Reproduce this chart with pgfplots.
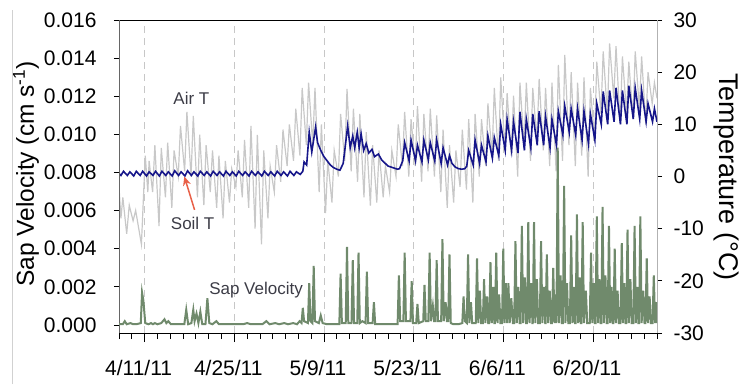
\documentclass[border=0pt]{standalone}
\usepackage{pgfplots}
\pgfplotsset{compat=1.18}
\usepackage{fontspec}
\setmainfont{Liberation Sans}
\usetikzlibrary{arrows.meta}
\definecolor{airT}{RGB}{200,200,200}
\definecolor{soilT}{RGB}{22,22,138}
\definecolor{sapV}{RGB}{112,138,108}
\definecolor{arrowred}{RGB}{232,96,72}
\definecolor{annot}{RGB}{60,60,70}
\begin{document}
\begin{tikzpicture}[x=1pt,y=1pt]
\useasboundingbox (0,0) rectangle (745,384);
\draw[black!18, line width=0.8pt] (12,0) -- (12,374);
\node[rotate=90, font=\fontsize{24.5}{28}\selectfont] at (26,210) {Sap Velocity (cm s\textsuperscript{-1})};
\node[rotate=-90, font=\fontsize{27}{30}\selectfont] at (726,207) {Temperature (°C)};
% ---------- temperature axis (right) ----------
\begin{axis}[
  at={(119pt,51pt)}, anchor=south west, scale only axis,
  width=538pt, height=313pt,
  xmin=-4, xmax=80, ymin=-30, ymax=30,
  separate axis lines,
  x axis line style={black, line width=1pt},
  y axis line style={black!30, line width=0.8pt},
  xtick={0,14,28,42,56,70}, xticklabels={}, major x tick style={draw=none},
  xmajorgrids, major x grid style={dash pattern=on 7pt off 5pt, black!22, line width=0.8pt},
  ytick={-30,-20,-10,0,10,20,30},
  ytick pos=right, yticklabel pos=right,
  tick align=outside, major tick length=5pt,
  ytick style={black, line width=0.8pt},
  yticklabel style={anchor=west, xshift=8pt, font=\fontsize{21}{25}\selectfont},
  /pgf/number format/assume math mode=true,
]
\addplot[airT, line width=1.2pt] coordinates {
(-4.0,-2) (-3.7,-8) (-3.4,-4) (-2.8,-11) (-2.4,-5.5) (-1.8,-8.5) (-1.4,-6.5) (-0.5,-13) (0.1,4) (0.5,-3) (0.7,3) (1.25,-3) (1.6,6) (2.25,-9.5) (2.6,5.5) (3.25,-4) (3.6,6.5) (4.25,-6) (4.6,5) (5.25,0) (5.6,9.7) (6.25,1) (6.6,12.4) (7.25,0) (7.6,11.6) (8.25,-4) (8.6,8) (9.25,-5.5) (9.6,6) (10.25,-3) (10.6,5) (11.25,-6) (11.6,4) (12.25,-8) (12.6,3) (13.25,-5) (13.6,1.5) (14.25,-2) (14.6,5) (15.25,-4) (15.6,7) (16.25,-6) (16.6,9.7) (17.25,-10) (17.6,8) (18.25,-13) (18.6,5) (19.25,-8) (19.6,2) (20.25,-3) (20.6,6) (21.25,-1) (21.6,9) (22.25,2) (22.6,10) (23.25,3) (23.6,13) (24.25,4) (24.6,17) (25.25,6) (25.6,18) (26.25,6) (26.6,17) (27.25,-3) (27.6,10) (28.25,-7) (28.6,3) (29.25,-5) (29.6,5) (30.25,0) (30.6,12) (31.25,3) (31.6,16.8) (32.25,1) (32.6,13) (33.25,-1) (33.6,12) (34.25,-4) (34.6,8.5) (35.25,-5.6) (35.6,6) (36.25,-5) (36.6,5) (37.25,-4) (37.6,2) (38.25,-3) (38.6,5) (39.25,0) (39.6,10) (40.25,2) (40.6,12.4) (41.25,0) (41.6,11) (42.25,2) (42.6,13.5) (43.25,-1) (43.6,12) (44.25,1) (44.6,13) (45.25,0) (45.6,11.7) (46.25,-3) (46.6,9) (47.25,-6) (47.6,6) (48.25,-5) (48.6,5) (49.25,-2) (49.6,9) (50.25,-2.5) (50.6,11) (51.25,-5) (51.6,12) (52.25,0) (52.6,11) (53.25,2) (53.6,14) (54.25,4) (54.6,17) (55.25,3) (55.6,19) (56.25,5) (56.6,16) (57.25,4) (57.6,15.5) (58.25,0) (58.6,18) (59.25,6) (59.6,18) (60.25,3) (60.6,17) (61.25,7) (61.6,18.7) (62.25,5) (62.6,17) (63.25,2) (63.6,18) (64.25,1) (64.6,21.4) (65.25,3) (65.6,23.3) (66.25,6) (66.6,20) (67.25,2) (67.6,18) (68.25,4) (68.6,19) (69.25,0) (69.6,17) (70.25,7) (70.6,22) (71.25,12) (71.6,24) (72.25,12) (72.6,25.5) (73.25,15) (73.6,25) (74.25,10) (74.6,23) (75.25,12) (75.6,22) (76.25,11) (76.6,24) (77.25,13) (77.6,23) (78.25,10) (78.6,20) (79.25,14) (79.6,18) (80,15)
};
\addplot[soilT, line width=1.6pt] coordinates {
(-4,0.6) (-3.7,0.2) (-3.3,1.0) (-2.7,0.2) (-2.3,0.9) (-1.7,0.1) (-1.3,1.0) (-0.7,0.2) (-0.3,1.0) (0.3,0.1) (0.7,0.9) (1.3,0.2) (1.7,1.0) (2.3,0.1) (2.7,1.0) (3.3,0.2) (3.7,0.9) (4.3,0.1) (4.7,1.1) (5.3,0.2) (5.7,0.9) (6.3,0.1) (6.7,1.1) (7.3,0.2) (7.7,0.9) (8.3,0.1) (8.7,1.0) (9.3,0.2) (9.7,0.9) (10.3,0.1) (10.7,1.0) (11.3,0.2) (11.7,0.9) (12.3,0.1) (12.7,1.0) (13.3,0.2) (13.7,0.9) (14.3,0.1) (14.7,1.0) (15.3,0.2) (15.7,0.9) (16.3,0.1) (16.7,1.0) (17.3,0.2) (17.7,0.9) (18.3,0.1) (18.7,1.0) (19.3,0.2) (19.7,0.9) (20.3,0.1) (20.7,1.0) (21.3,0.2) (21.7,0.9) (22.3,0.1) (22.7,1.0) (23.3,0.2) (23.7,0.9) (24.3,0.4) (24.7,1.0) (24.9,2.8) (25.3,2.2) (25.7,8.5) (26.1,4.7) (26.7,9.5) (27.0,6.5) (27.5,5.0) (28.0,3.8) (28.5,3.0) (29.0,2.2) (29.5,1.7) (30.0,1.4) (30.5,1.2) (31.0,2.5) (31.3,5.5) (31.7,9.7) (32.1,5.5) (32.5,7.8) (32.8,5.5) (33.2,8.5) (33.5,5.5) (33.8,8.2) (34.2,5) (34.6,6.3) (35.0,4.5) (35.5,5.2) (35.9,3.8) (36.5,4.3) (37.0,3.2) (37.5,2.6) (38.0,2.0) (38.5,1.8) (39.0,1.6) (39.5,1.4) (39.8,1.5) (40.3,3.0) (40.6,6.5) (41.3,3.0) (41.6,7.0) (42.3,3.0) (42.6,6.0) (43.3,2.8) (43.6,7.0) (44.3,3.2) (44.6,6.5) (45.3,3.0) (45.6,7.0) (46.3,2.5) (46.6,5.5) (47.3,2.2) (47.6,4.0) (48.0,2.5) (48.5,1.8) (49.0,1.5) (49.5,1.4) (50.0,1.5) (50.3,2.0) (50.6,5.0) (51.3,2.2) (51.6,7.0) (52.3,2.5) (52.6,6.0) (53.3,2.8) (53.6,7.8) (54.3,3.5) (54.6,7.5) (55.3,4.0) (55.6,10.0) (56.3,5.0) (56.6,11.0) (57.3,5.0) (57.6,10.5) (58.3,4.5) (58.6,12.4) (59.3,5.0) (59.6,11.0) (60.3,5.5) (60.6,12.0) (61.3,6.0) (61.6,12.5) (62.3,6.0) (62.6,11.5) (63.3,5.5) (63.6,11.0) (64.3,6.0) (64.6,12.5) (65.3,8.0) (65.6,13.5) (66.3,8.5) (66.6,13.0) (67.3,8.0) (67.6,13.0) (68.3,7.0) (68.6,12.5) (69.3,6.3) (69.6,12.0) (70.3,7.0) (70.6,14.0) (71.3,10.0) (71.6,16.3) (72.3,10.0) (72.6,16.5) (73.3,10.5) (73.6,17.0) (74.3,10.0) (74.6,16.5) (75.3,10.0) (75.6,17.4) (76.3,11.0) (76.6,17.0) (77.3,11.0) (77.6,16.5) (78.3,10.5) (78.6,14.0) (79.3,10.5) (79.6,13.0) (80.0,10.5)
};
\node[font=\fontsize{17}{20}\selectfont, text=annot] at (axis cs:7.3,14.9) {Air T};
\node[font=\fontsize{17}{20}\selectfont, text=annot] at (axis cs:7.5,-8.9) {Soil T};
\draw[-{Stealth[length=9pt,width=8pt]}, arrowred, line width=1.5pt] (axis cs:7.8,-6.4) -- (axis cs:6.2,0.0);
\node[font=\fontsize{17}{20}\selectfont, text=annot] at (axis cs:17.4,-21.8) {Sap Velocity};
\end{axis}
% ---------- sap velocity axis (left) ----------
\begin{axis}[
  at={(119pt,51pt)}, anchor=south west, scale only axis,
  width=538pt, height=313pt,
  xmin=-4, xmax=80, ymin=-0.00042, ymax=0.016,
  axis line style={draw=none},
  xtick={0,14,28,42,56,70},
  xticklabels={4/11/11,4/25/11,5/9/11,5/23/11,6/6/11,6/20/11},
  minor xtick={-4,-2,...,80},
  xtick pos=bottom, ytick pos=left,
  tick align=outside, major tick length=9pt, minor tick length=6pt,
  xtick style={black, line width=0.8pt},
  minor x tick style={black, line width=0.8pt},
  ytick={0,0.002,0.004,0.006,0.008,0.010,0.012,0.014,0.016},
  ytick style={black, line width=0.8pt, /pgfplots/major tick length=5pt},
  scaled y ticks=false,
  yticklabel style={anchor=east, xshift=-10pt, font=\fontsize{21}{25}\selectfont, /pgf/number format/.cd, fixed, fixed zerofill, precision=3},
  xticklabel style={font=\fontsize{21}{25}\selectfont, yshift=-15pt, xshift=-6pt},
  /pgf/number format/assume math mode=true,
]
\draw[black!60, line width=0.8pt] (rel axis cs:0,0) -- (rel axis cs:0,1);
\addplot[sapV, line width=2pt] coordinates {
(-4,0.00004) (-3.4,0.00004) (-3.1,0.0002) (-2.8,0.00004) (-2.2,0.0001) (-1.8,0.00004) (-1.3,0.00004) (-0.6,0.0001) (-0.4,0.0017) (-0.2,0.0013) (0.1,0.0001) (0.6,0.00004) (1.0,0.0001) (1.3,0.00004) (1.6,0.0001) (2.0,0.00004) (2.6,0.0001) (3.1,0.0003) (3.4,0.0001) (3.7,0.0002) (4.1,0.00004) (4.8,0.00004) (5.5,0.00004) (6.2,0.00004) (6.5,0.0008) (6.8,0.00004) (7.3,0.0001) (7.6,0.0008) (7.8,0.0002) (8.1,0.0006) (8.4,0.0001) (8.7,0.0007) (9.0,0.00004) (9.5,0.00004) (9.8,0.0014) (10.1,0.0001) (10.6,0.00004) (11.2,0.0002) (11.6,0.00004) (12.5,0.00004) (13.3,0.00004) (14.0,0.00004) (14.6,0.00004) (15.4,0.00004) (16.0,0.0001) (16.6,0.00004) (17.5,0.00004) (18.4,0.00004) (19.0,0.0002) (19.5,0.00004) (20.4,0.0001) (21.0,0.00004) (21.8,0.0001) (22.4,0.00004) (23.2,0.0001) (23.8,0.00004) (24.2,0.0002) (24.5,0.0001) (24.7,0.0009) (24.9,0.0002) (25.5,0.0001) (25.7,0.0022) (25.9,0.0002) (26.2,0.0001) (26.4,0.0031) (26.6,0.0002) (27.2,0.0001) (27.5,0.0005) (27.8,0.0001) (28.5,0.00004) (29.3,0.00004) (30.0,0.00004) (30.4,0.00004) (30.6,0.0027) (30.8,0.0001) (31.4,0.0001) (31.6,0.0041) (31.8,0.0001) (32.3,0.0001) (32.5,0.0034) (32.7,0.0001) (33.2,0.0001) (33.4,0.0038) (33.6,0.0001) (34.0,0.0002) (34.5,0.0001) (34.7,0.0028) (34.9,0.0001) (35.6,0.0001) (35.8,0.0012) (36.0,0.00004) (37.0,0.00004) (38.0,0.00004) (39.0,0.00004) (39.5,0.00004) (39.7,0.0026) (39.9,0.0002) (40.4,0.0002) (40.6,0.0038) (40.8,0.0002) (41.5,0.0002) (41.7,0.0023) (41.9,0.0001) (42.4,0.0001) (42.6,0.0011) (42.8,0.0001) (43.5,0.0002) (43.7,0.0021) (43.9,0.0002) (44.3,0.0002) (44.5,0.0038) (44.7,0.0002) (45.0,0.0010) (45.2,0.0002) (45.4,0.0002) (45.6,0.0034) (45.8,0.0002) (46.3,0.0002) (46.5,0.0045) (46.7,0.0002) (47.0,0.0012) (47.2,0.0002) (47.4,0.0002) (47.6,0.0037) (47.8,0.0001) (48.2,0.00004) (49.0,0.00004) (49.6,0.0001) (49.8,0.0015) (50.0,0.0002)
(50.3,0.0001) (50.5,0.0037) (50.7,0.0001) (50.95,0.0012) (51.15,0.0001)
(51.7,0.0001) (51.9,0.0035) (52.1,0.0001) (52.35,0.0018) (52.55,0.0001)
(52.8,0.0001) (53.0,0.0024) (53.2,0.0001) (53.45,0.0015) (53.65,0.0001)
(53.8,0.0001) (54.0,0.0033) (54.2,0.0001) (54.45,0.0020) (54.6,0.0001)
(54.7,0.0001) (54.9,0.0038) (55.1,0.0001) (55.35,0.0016) (55.55,0.0001)
(55.8,0.0001) (56.0,0.0040) (56.2,0.0001) (56.4,0.0022) (56.6,0.0001)
(56.8,0.0022) (57.0,0.0001) (57.25,0.0014) (57.5,0.0001)
(57.7,0.0001) (57.9,0.0044) (58.1,0.0001) (58.35,0.0020) (58.55,0.0001)
(58.7,0.0001) (58.9,0.0052) (59.1,0.0001) (59.35,0.0025) (59.55,0.0001)
(59.7,0.0001) (59.9,0.0054) (60.1,0.0001) (60.35,0.0022) (60.55,0.0001)
(60.6,0.0001) (60.8,0.0054) (61.0,0.0001) (61.25,0.0024) (61.45,0.0001)
(61.7,0.0001) (61.9,0.0044) (62.1,0.0001) (62.35,0.0020) (62.55,0.0001)
(62.6,0.0001) (62.8,0.0037) (63.0,0.0001) (63.25,0.0018) (63.45,0.0001)
(63.6,0.0001) (63.8,0.0030) (64.0,0.0001) (64.15,0.0016) (64.3,0.0001)
(64.5,0.0093) (64.7,0.0001) (64.95,0.0026) (65.15,0.0001)
(65.3,0.0001) (65.5,0.0073) (65.7,0.0001) (65.95,0.0022) (66.15,0.0001)
(66.4,0.0001) (66.6,0.0047) (66.8,0.0001) (67.0,0.0020) (67.2,0.0001)
(67.3,0.0001) (67.5,0.0058) (67.7,0.0001) (67.9,0.0025) (68.1,0.0001)
(68.2,0.0001) (68.4,0.0054) (68.6,0.0001) (68.9,0.0018) (69.1,0.0001)
(69.5,0.0001) (69.7,0.0038) (69.9,0.0001) (70.1,0.0022) (70.3,0.0001)
(70.4,0.0001) (70.6,0.0057) (70.8,0.0001) (71.0,0.0024) (71.2,0.0001)
(71.3,0.0001) (71.5,0.0062) (71.7,0.0001) (71.95,0.0026) (72.15,0.0001)
(72.3,0.0001) (72.5,0.0052) (72.7,0.0001) (72.9,0.0020) (73.1,0.0001)
(73.2,0.0001) (73.4,0.0040) (73.6,0.0001) (73.85,0.0018) (74.05,0.0001)
(74.3,0.0001) (74.5,0.0043) (74.7,0.0001) (74.9,0.0022) (75.1,0.0001)
(75.2,0.0001) (75.4,0.0050) (75.6,0.0001) (75.85,0.0024) (76.05,0.0001)
(76.3,0.0001) (76.5,0.0052) (76.7,0.0001) (76.9,0.0020) (77.1,0.0001)
(77.2,0.0001) (77.4,0.0057) (77.6,0.0001) (77.85,0.0018) (78.05,0.0001)
(78.2,0.0001) (78.4,0.0035) (78.6,0.0001) (78.85,0.0015) (79.05,0.0001)
(79.3,0.0001) (79.5,0.0026) (79.7,0.0001) (79.85,0.0012) (80,0.0001)
};
\end{axis}
\end{tikzpicture}
\end{document}
